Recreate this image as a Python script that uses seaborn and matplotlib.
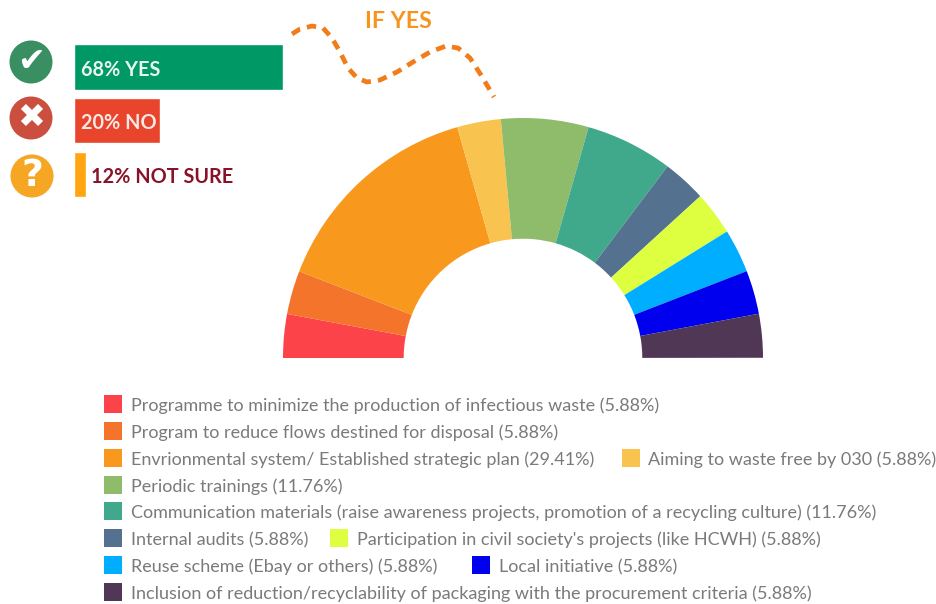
# plot.py
import matplotlib
matplotlib.use('Agg')
import matplotlib.pyplot as plt
import pandas as pd
import seaborn as sns

W, H = 936, 604

answers = ['68% YES', '20% NO', '12% NOT SURE']
# bar lengths as drawn in the picture (not proportional to the printed labels)
answer_lengths = [68, 28, 4]
answer_colors = ['#009966', '#E8452C', '#FFA50F']
answer_text_colors = ['#E9F5EF', '#FBE9E4', '#8A1228']
icon_colors = ['#3A8F62', '#CB4F3E', '#F5A623']
icon_glyphs = ['✔', '✖', '?']

measures = [
    'Programme to minimize the production of infectious waste (5.88%)',
    'Program to reduce flows destined for disposal (5.88%)',
    'Envrionmental system/ Established strategic plan (29.41%)',
    'Aiming to waste free by 030 (5.88%)',
    'Periodic trainings (11.76%)',
    'Communication materials (raise awareness projects, promotion of a recycling culture) (11.76%)',
    'Internal audits (5.88%)',
    "Participation in civil society's projects (like HCWH) (5.88%)",
    'Reuse scheme (Ebay or others) (5.88%)',
    'Local initiative (5.88%)',
    'Inclusion of reduction/recyclability of packaging with the procurement criteria (5.88%)',
]
shares = [5.88, 5.88, 29.41, 5.88, 11.76, 11.76, 5.88, 5.88, 5.88, 5.88, 5.88]
measure_colors = ['#FC4349', '#F4742B', '#F8981D', '#F8C44F', '#8FBC6B', '#41A98B',
                  '#54718F', '#DDFF3F', '#00AEFF', '#0000EE', '#503755']

# legend layout in pixels: (x of swatch, x of text, y)
legend_slots = [(104, 131, 404), (104, 131, 431), (104, 131, 458), (622, 648, 458),
                (104, 131, 484.5), (104, 131, 511), (104, 131, 538), (330, 357, 538),
                (104, 131, 565), (472, 499, 565), (104, 131, 591.5)]

curve_x = [292, 300, 312, 323, 332, 340, 348, 357, 367, 380, 397, 413, 430, 446, 458, 470, 481, 494]
curve_y = [34, 29, 26, 28, 38, 52, 68, 78, 82, 80, 72, 62, 52, 46, 48, 58, 75, 97]

sns.set_theme(style='white')
plt.rcParams['font.family'] = ['Lato', 'DejaVu Sans']

fig = plt.figure(figsize=(W / 100, H / 100), dpi=100, facecolor='white')

# overlay in pixel coordinates for the decoration and legend
page = fig.add_axes([0, 0, 1, 1])
page.set_xlim(0, W)
page.set_ylim(H, 0)
page.axis('off')

# half donut
cx, cy, r = 523, 358, 240
donut = fig.add_axes([(cx - r) / W, (H - cy - r) / H, 2 * r / W, 2 * r / H])
donut.pie([s / 200 for s in shares], colors=measure_colors, startangle=180, counterclock=False,
          radius=1, normalize=False, wedgeprops={'width': 0.503, 'linewidth': 0})
donut.set_xlim(-1, 1)
donut.set_ylim(-1, 1)

# answer bars
df = pd.DataFrame({'answer': answers, 'length': answer_lengths})
bars = fig.add_axes([74 / W, (H - 201.4) / H, 307 / W, 161.3 / H])
bars.patch.set_alpha(0)
sns.barplot(data=df, x='length', y='answer', hue='answer', palette=answer_colors,
            width=0.84, legend=False, saturation=1, ax=bars)
bars.set_xlim(0, 100)
bars.set_ylim(2.5, -0.5)
bars.axis('off')
for i, label in enumerate(answers):
    x = 2.3 if i < 2 else 5.5
    bars.text(x, i + 0.05, label, color=answer_text_colors[i], fontsize=14.3, fontweight='bold',
              va='center', ha='left')

# icons
icon_y = [62, 118, 176]
page.scatter([31, 31, 32], icon_y, s=[(2 * 21.5 * 0.72) ** 2] * 3, c=icon_colors, linewidths=0)
for x, y, glyph, size in zip([31, 31, 32], icon_y, icon_glyphs, [24, 24, 27]):
    page.text(x, y, glyph, color='white', fontsize=size, fontweight='bold', ha='center', va='center',
              family=['DejaVu Sans'])

# if yes
page.plot(curve_x, curve_y, color='#F07D1A', lw=3.4, ls=(0, (2.0, 1.5)))
page.text(398, 21, 'IF YES', color='#F7941E', fontsize=16.7, fontweight='bold', ha='center', va='center')

# legend
for (sx, tx, y), label, color in zip(legend_slots, measures, measure_colors):
    page.add_patch(plt.Rectangle((sx, y - 9), 18, 18, color=color, lw=0))
    page.text(tx, y + 2, label, color='#7A7A7A', fontsize=13, ha='left', va='center')

fig.savefig('out.png', dpi=100)
